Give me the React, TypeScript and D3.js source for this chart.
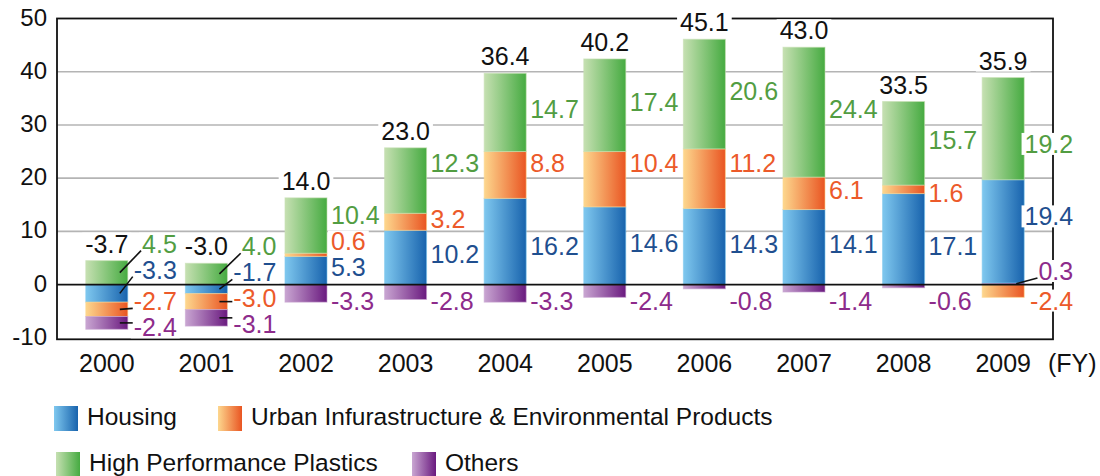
import React from 'react';
import * as d3 from 'd3';

const years = ['2000', '2001', '2002', '2003', '2004', '2005', '2006', '2007', '2008', '2009'];
const housing = [-3.3, -1.7, 5.3, 10.2, 16.2, 14.6, 14.3, 14.1, 17.1, 19.4];
const urban = [-2.7, -3.0, 0.6, 3.2, 8.8, 10.4, 11.2, 6.1, 1.6, -2.4];
const hpp = [4.5, 4.0, 10.4, 12.3, 14.7, 17.4, 20.6, 24.4, 15.7, 19.2];
const others = [-2.4, -3.1, -3.3, -2.8, -3.3, -2.4, -0.8, -1.4, -0.6, 0.3];
const totals = [-3.7, -3.0, 14.0, 23.0, 36.4, 40.2, 45.1, 43.0, 33.5, 35.9];
const yTicks = [-10, 0, 10, 20, 30, 40, 50];
const gridValues = [10, 20, 30, 40];
const unitLabel = '(FY)';

type Key = 'housing' | 'urban' | 'hpp' | 'others';
const seriesValues: Record<Key, number[]> = { housing, urban, hpp, others };
const seriesNames: Record<Key, string> = {
  housing: 'Housing',
  urban: 'Urban Infurastructure & Environmental Products',
  hpp: 'High Performance Plastics',
  others: 'Others',
};

// styles
const gradStops: Record<Key, [string, string]> = {
  housing: ['#7fc8ef', '#1863ad'],
  urban: ['#fdd78e', '#e95522'],
  hpp: ['#c6e0b2', '#46ab41'],
  others: ['#c9a6d2', '#6a1a7f'],
};
const textColors: Record<Key, string> = {
  housing: '#1f4f8f',
  urban: '#ec5a2a',
  hpp: '#529d42',
  others: '#8d2b8b',
};
const posOrder: Key[] = ['others', 'housing', 'urban', 'hpp'];
const negOrder: Key[] = ['housing', 'urban', 'others', 'hpp'];
const calloutYears = ['2000', '2001'];
const rightAlignedYears = ['2000', '2001', '2009'];
const labelNudge: Record<string, number> = { '2009|hpp': 4 };

const legendRows: { key: Key; x: number; row: number }[] = [
  { key: 'housing', x: 54, row: 0 },
  { key: 'urban', x: 218, row: 0 },
  { key: 'hpp', x: 56, row: 1 },
  { key: 'others', x: 412, row: 1 },
];

const W = 1100;
const H = 476;
const FONT = '"Liberation Sans", Arial, Helvetica, sans-serif';
const LABEL_SIZE = 25;

let ctx: CanvasRenderingContext2D | null = null;
function textWidth(s: string, size: number) {
  if (!ctx) ctx = document.createElement('canvas').getContext('2d');
  if (!ctx) return s.length * size * 0.55;
  ctx.font = `${size}px "Liberation Sans"`;
  return ctx.measureText(s).width;
}

export default function App() {
  const x = d3.scaleBand<string>().domain(years).range([57, 1053]).paddingInner(0.578).paddingOuter(0.289);
  const y = d3.scaleLinear().domain([-10, 50]).range([337.8, 18.5]);
  const bw = x.bandwidth();
  const y0 = y(0);
  const fmt = (v: number) => v.toFixed(1);

  type Seg = { key: Key; i: number; v0: number; v1: number; value: number };
  const segs: Seg[] = [];
  const tops: number[] = [];
  years.forEach((yr, i) => {
    let pos = 0;
    posOrder.forEach((k) => {
      const v = seriesValues[k][i];
      if (v > 0) {
        segs.push({ key: k, i, v0: pos, v1: pos + v, value: v });
        pos += v;
      }
    });
    tops.push(pos);
    let neg = 0;
    negOrder.forEach((k) => {
      const v = seriesValues[k][i];
      if (v < 0) {
        segs.push({ key: k, i, v0: neg + v, v1: neg, value: v });
        neg += v;
      }
    });
  });

  type Lab = { text: string; color: string; x: number; anchor: 'start' | 'end' | 'middle'; c: number };
  const labels: Lab[] = [];
  const leaders: { x1: number; y1: number; x2: number; y2: number }[] = [];

  years.forEach((yr, i) => {
    const bx = x(yr)!;
    const right = bx + bw;
    const totalC = y(tops[i]) - 17;
    labels.push({ text: fmt(totals[i]), color: '#111', x: bx + bw / 2, anchor: 'middle', c: totalC });
    const rightAl = rightAlignedYears.includes(yr);
    const ax = rightAl ? right + 49 : right + 4;
    const anchor = rightAl ? 'end' : 'start';
    const mine = segs.filter((s) => s.i === i);
    const segC = (s: Seg) => (y(s.v0) + y(s.v1)) / 2;
    const place: { s: Seg; c: number; leader: boolean }[] = [];
    if (calloutYears.includes(yr)) {
      const order: Key[] = ['hpp', 'housing', 'urban', 'others'];
      let prev = totalC - 26;
      order.forEach((k, j) => {
        const s = mine.find((m) => m.key === k);
        if (!s) return;
        const c = j === 0 ? totalC : j === 1 ? prev + 26 : Math.max(prev + 26, segC(s) - 8);
        place.push({ s, c, leader: true });
        prev = c;
      });
    } else {
      const posSegs = mine.filter((s) => s.value > 0);
      let prev = Infinity;
      (['others', 'housing', 'urban', 'hpp'] as Key[]).forEach((k) => {
        const s = posSegs.find((m) => m.key === k);
        if (!s) return;
        const hpx = y(s.v0) - y(s.v1);
        if (hpx < 2.5) {
          place.push({ s, c: y(s.v1) - 12, leader: true });
          return;
        }
        let c = segC(s) - 3;
        gridValues.forEach((g) => {
          const gy = y(g);
          if (Math.abs(c - gy) < 10) c = c <= gy ? gy - 15 : gy + 15;
        });
        c += labelNudge[`${yr}|${k}`] || 0;
        if (c > prev - 26) c = prev - 26;
        prev = c;
        place.push({ s, c, leader: false });
      });
      mine.filter((s) => s.value < 0).forEach((s) => {
        place.push({ s, c: Math.max(segC(s), y0 + 16), leader: false });
      });
    }
    place.forEach(({ s, c, leader }) => {
      const text = fmt(s.value);
      labels.push({ text, color: textColors[s.key], x: ax, anchor, c });
      if (leader) {
        const w = textWidth(text, LABEL_SIZE);
        const left = anchor === 'end' ? ax - w : ax;
        const sc = segC(s);
        const d = Math.max(-7, Math.min(7, sc - c));
        leaders.push({ x1: right - 8, y1: sc, x2: left - 1, y2: c + d });
      }
    });
  });

  const legendY = [418, 464];

  return (
    <svg width={W} height={H} style={{ position: 'absolute', left: 0, top: 0, background: '#fff' }} fontFamily={FONT}>
      <defs>
        {(Object.keys(gradStops) as Key[]).map((k) => (
          <linearGradient key={k} id={`g-${k}`} x1="0" x2="1" y1="0" y2="0">
            <stop offset="0" stopColor={gradStops[k][0]} />
            <stop offset="1" stopColor={gradStops[k][1]} />
          </linearGradient>
        ))}
      </defs>
      <rect x={0} y={0} width={W} height={H} fill="#fff" />
      {gridValues.map((g) => (
        <line key={g} x1={57} x2={1053} y1={y(g)} y2={y(g)} stroke="#b4b4b4" strokeWidth={1.6} />
      ))}
      {segs.map((s, j) => (
        <rect
          key={j}
          x={x(years[s.i])!}
          width={bw}
          y={y(s.v1)}
          height={Math.max(0, y(s.v0) - y(s.v1))}
          fill={`url(#g-${s.key})`}
          stroke={gradStops[s.key][0]}
          strokeOpacity={0.6}
          strokeWidth={1}
        />
      ))}
      <rect x={57} y={y(50)} width={996} height={y(-10) + 1.5 - y(50)} fill="none" stroke="#111" strokeWidth={1.8} />
      <line x1={57} x2={1053} y1={y0} y2={y0} stroke="#111" strokeWidth={1.8} />
      {labels.map((l, j) => {
        const w = textWidth(l.text, LABEL_SIZE);
        const left = l.anchor === 'start' ? l.x : l.anchor === 'end' ? l.x - w : l.x - w / 2;
        return <rect key={j} x={left - 3} y={l.c - 11} width={w + 6} height={22} fill="#fff" />;
      })}
      {labels.map((l, j) => (
        <text key={j} x={l.x} y={l.c + 9} textAnchor={l.anchor} fontSize={LABEL_SIZE} fill={l.color}>
          {l.text}
        </text>
      ))}
      {leaders.map((l, j) => (
        <line key={j} x1={l.x1} y1={l.y1} x2={l.x2} y2={l.y2} stroke="#111" strokeWidth={1.6} />
      ))}
      {yTicks.map((t) => (
        <text key={t} x={47} y={y(t) + 7} textAnchor="end" fontSize={24} fill="#111">
          {t}
        </text>
      ))}
      {years.map((yr) => (
        <text key={yr} x={x(yr)! + bw / 2} y={372} textAnchor="middle" fontSize={25} fill="#111">
          {yr}
        </text>
      ))}
      <text x={1048} y={372} fontSize={25} fill="#111">
        {unitLabel}
      </text>
      {legendRows.map((it) => (
        <g key={it.key}>
          <rect x={it.x} y={legendY[it.row] - 12} width={24} height={25} fill={`url(#g-${it.key})`} />
          <text x={it.x + 33} y={legendY[it.row] + 7} fontSize={24.5} fill="#111">
            {seriesNames[it.key]}
          </text>
        </g>
      ))}
    </svg>
  );
}
